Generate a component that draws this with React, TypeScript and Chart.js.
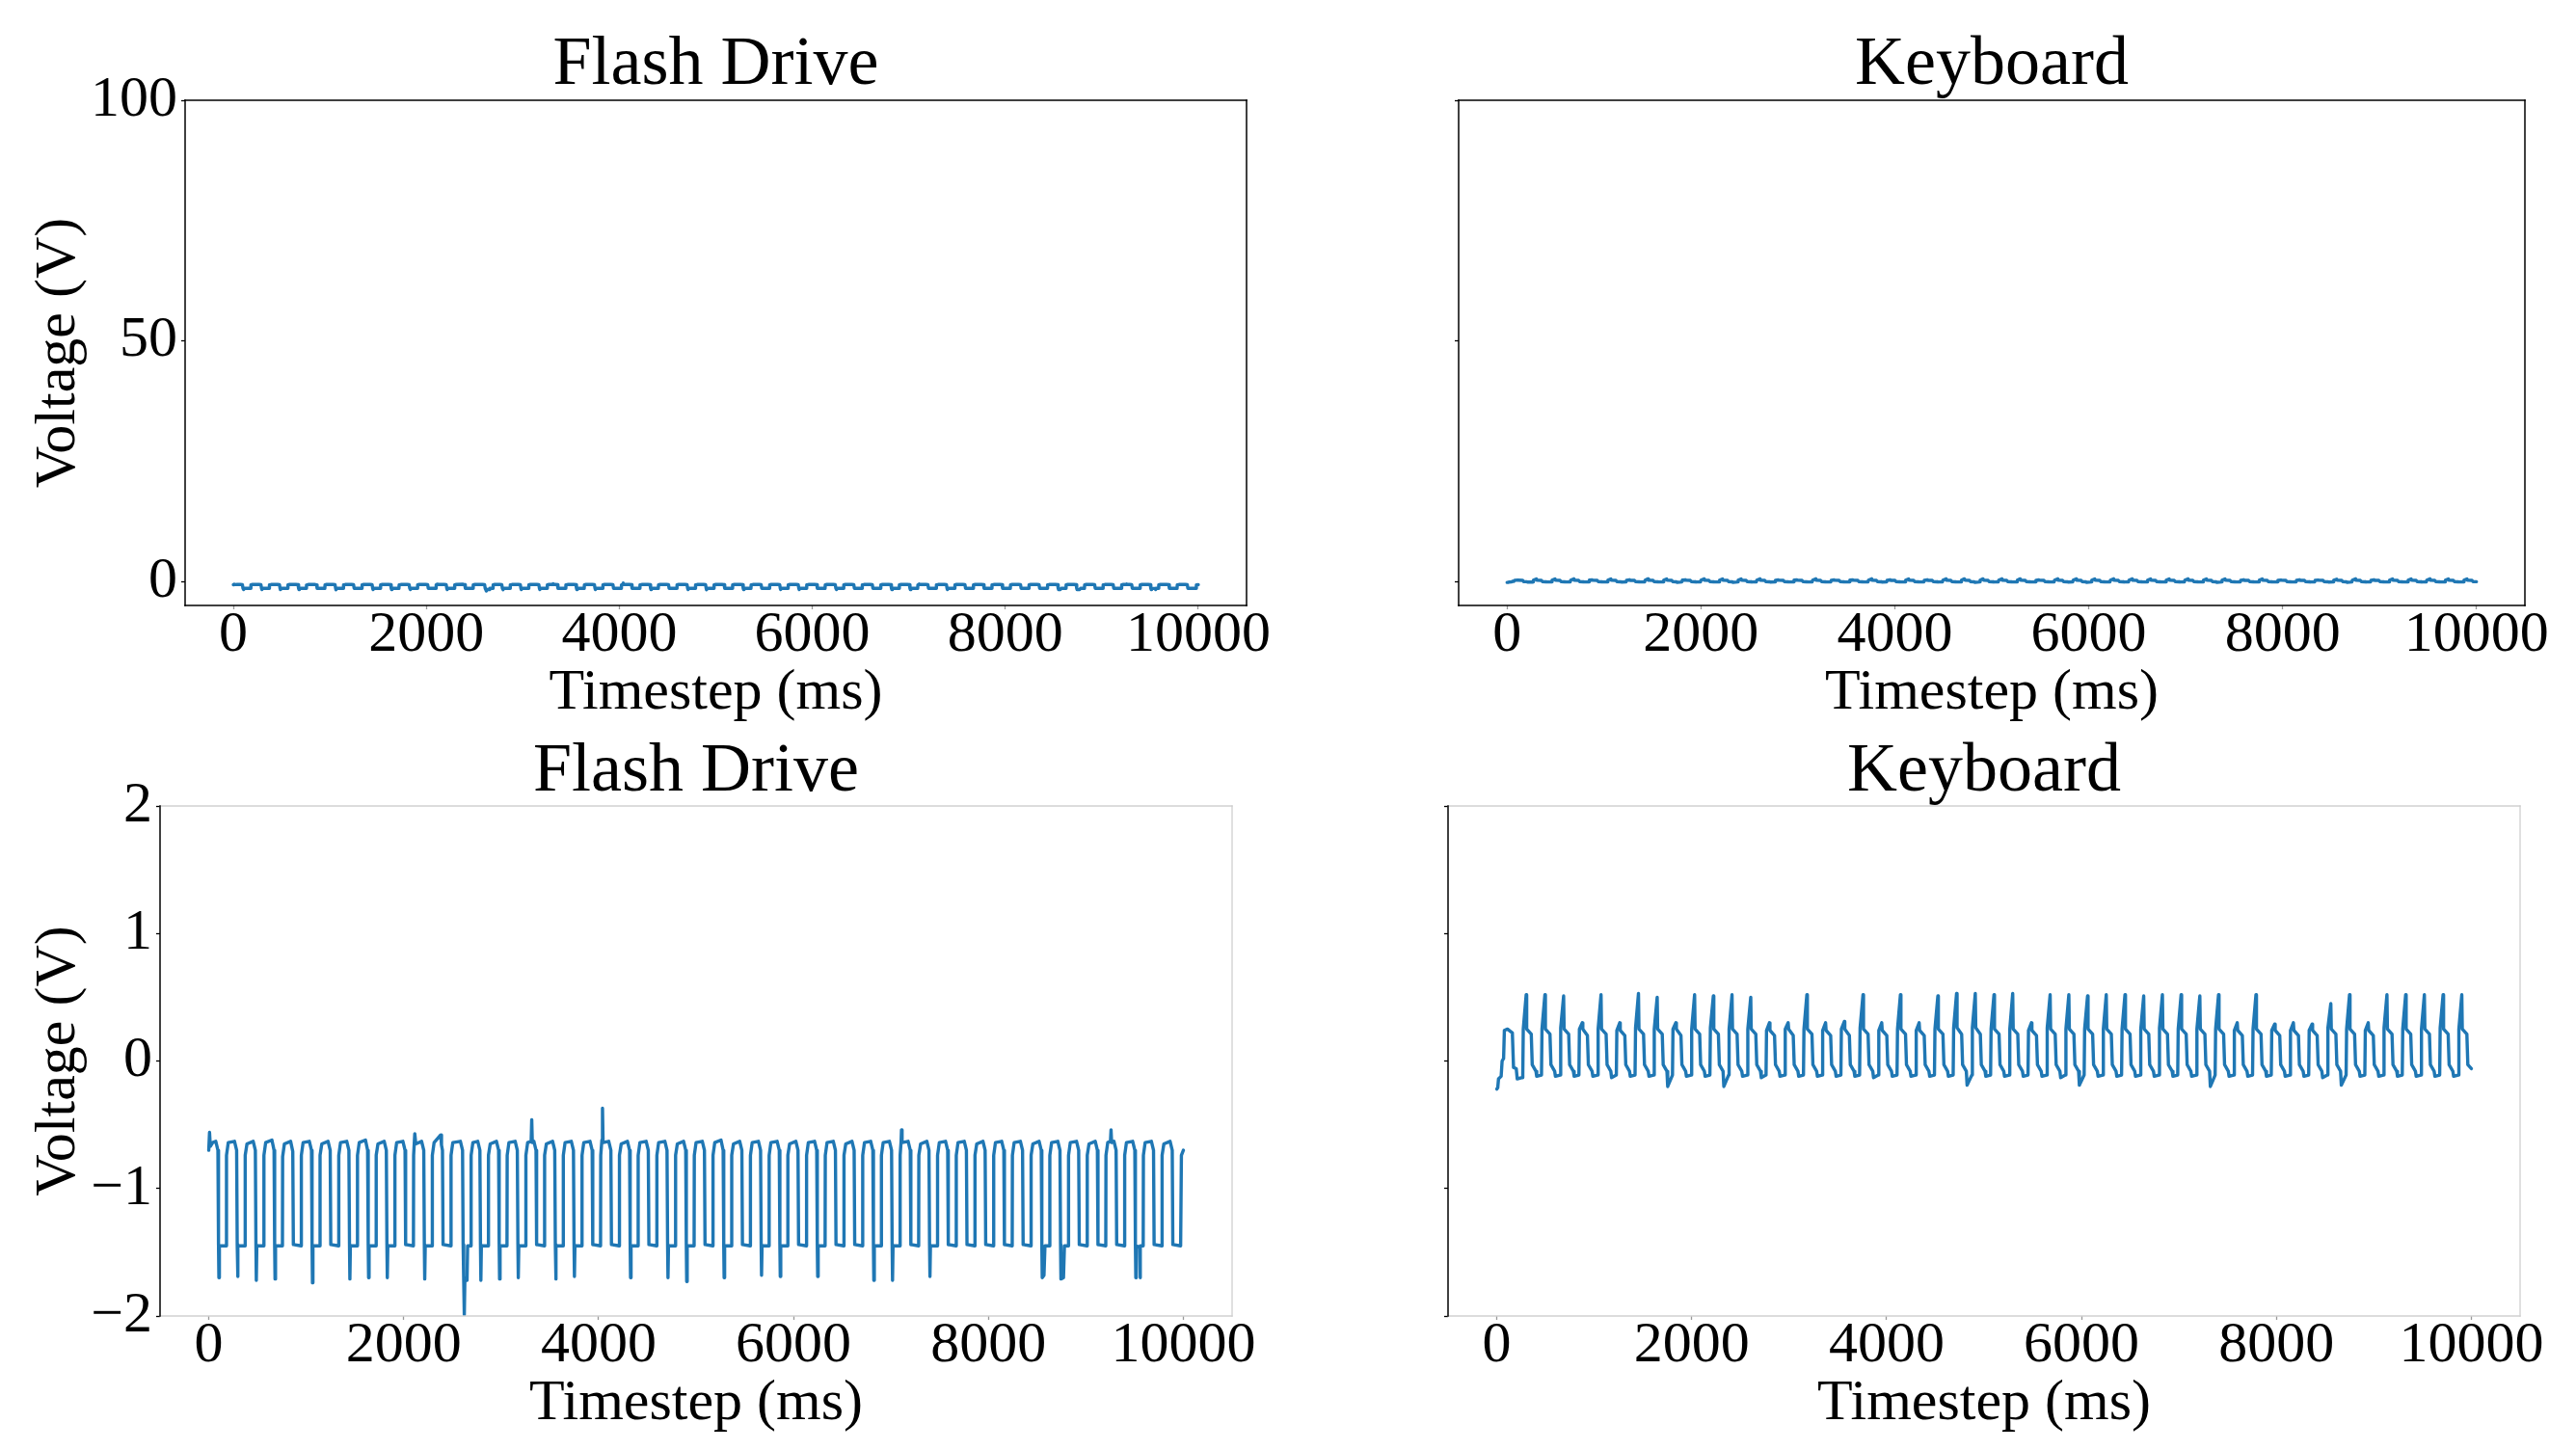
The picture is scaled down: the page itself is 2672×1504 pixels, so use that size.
import React, { useEffect, useRef } from 'react';
import { Chart, registerables } from 'chart.js';

Chart.register(...registerables);

const SERIF = '"Liberation Serif", "Times New Roman", Times, serif';
const LINE_BLUE = '#1f77b4';

const panelTitles = ['Flash Drive', 'Keyboard', 'Flash Drive', 'Keyboard'];
const xAxisTitle = 'Timestep (ms)';
const yAxisTitle = 'Voltage (V)';
const xTickValues = [0, 2000, 4000, 6000, 8000, 10000];
const topYTickValues = [0, 50, 100];
const bottomYTickValues = [-2, -1, 0, 1, 2];

// Flash drive trace: [time (ms), voltage (V)] vertices
const flashSeries: [number, number][] = [
  [0, -0.70], [8, -0.56], [16, -0.67], [40, -0.64], [72, -0.63], [94, -0.70], [100, -1.44], [104, -1.70], [109, -1.45], [180, -1.45],
  [182, -0.74], [200, -0.64], [264, -0.63], [286, -0.70], [292, -1.44], [296, -1.69], [301, -1.45], [372, -1.45],
  [374, -0.74], [392, -0.65], [456, -0.63], [478, -0.70], [484, -1.44], [488, -1.72], [493, -1.45], [564, -1.45],
  [566, -0.74], [584, -0.64], [648, -0.62], [670, -0.70], [676, -1.44], [680, -1.71], [685, -1.45], [756, -1.45],
  [758, -0.75], [776, -0.65], [840, -0.63], [862, -0.71], [868, -1.44], [948, -1.45],
  [950, -0.74], [968, -0.64], [1032, -0.63], [1054, -0.70], [1060, -1.44], [1064, -1.74], [1069, -1.45], [1140, -1.45],
  [1142, -0.74], [1160, -0.65], [1224, -0.63], [1246, -0.70], [1252, -1.44], [1332, -1.45],
  [1334, -0.74], [1352, -0.64], [1416, -0.63], [1438, -0.70], [1444, -1.44], [1448, -1.71], [1453, -1.45], [1524, -1.45],
  [1526, -0.74], [1544, -0.64], [1608, -0.62], [1630, -0.70], [1636, -1.44], [1640, -1.70], [1645, -1.45], [1716, -1.45],
  [1718, -0.74], [1736, -0.65], [1800, -0.63], [1822, -0.70], [1828, -1.44], [1832, -1.70], [1837, -1.45], [1908, -1.45],
  [1910, -0.74], [1928, -0.64], [1992, -0.63], [2014, -0.70], [2020, -1.44], [2100, -1.45],
  [2102, -0.74], [2114, -0.57], [2124, -0.65], [2184, -0.63], [2206, -0.70], [2212, -1.44], [2216, -1.71], [2221, -1.45], [2292, -1.45],
  [2294, -0.74], [2312, -0.64], [2380, -0.58], [2388, -0.66], [2398, -0.70], [2404, -1.44], [2484, -1.45],
  [2486, -0.74], [2504, -0.64], [2582, -0.63], [2604, -0.70], [2610, -1.44], [2616, -1.72], [2622, -1.99], [2628, -1.70], [2650, -1.72], [2656, -1.45], [2690, -1.45],
  [2692, -0.74], [2710, -0.64], [2760, -0.63], [2782, -0.70], [2788, -1.44], [2792, -1.72], [2797, -1.45], [2868, -1.45],
  [2870, -0.74], [2888, -0.65], [2952, -0.63], [2974, -0.70], [2980, -1.44], [2984, -1.71], [2989, -1.45], [3060, -1.45],
  [3062, -0.74], [3080, -0.64], [3144, -0.63], [3166, -0.70], [3172, -1.44], [3176, -1.70], [3181, -1.45], [3252, -1.45],
  [3254, -0.74], [3272, -0.64], [3308, -0.63], [3314, -0.46], [3320, -0.64], [3336, -0.63], [3358, -0.70], [3364, -1.44], [3444, -1.45],
  [3446, -0.74], [3464, -0.65], [3528, -0.63], [3550, -0.70], [3556, -1.44], [3560, -1.71], [3565, -1.45], [3636, -1.45],
  [3638, -0.74], [3656, -0.64], [3720, -0.63], [3742, -0.70], [3748, -1.44], [3752, -1.69], [3757, -1.45], [3828, -1.45],
  [3830, -0.74], [3848, -0.64], [3912, -0.63], [3934, -0.70], [3940, -1.44], [4020, -1.45],
  [4022, -0.74], [4034, -0.62], [4040, -0.37], [4046, -0.64], [4104, -0.63], [4126, -0.70], [4132, -1.44], [4212, -1.45],
  [4214, -0.74], [4232, -0.65], [4296, -0.63], [4318, -0.70], [4324, -1.44], [4328, -1.70], [4333, -1.45], [4404, -1.45],
  [4406, -0.74], [4424, -0.64], [4488, -0.63], [4510, -0.70], [4516, -1.44], [4596, -1.45],
  [4598, -0.74], [4616, -0.64], [4680, -0.63], [4702, -0.70], [4708, -1.44], [4712, -1.70], [4717, -1.45], [4788, -1.45],
  [4790, -0.74], [4808, -0.65], [4872, -0.63], [4894, -0.70], [4900, -1.44], [4904, -1.73], [4909, -1.45], [4980, -1.45],
  [4982, -0.74], [5000, -0.64], [5064, -0.63], [5086, -0.70], [5092, -1.44], [5172, -1.45],
  [5174, -0.74], [5192, -0.64], [5256, -0.62], [5278, -0.70], [5284, -1.44], [5288, -1.70], [5293, -1.45], [5364, -1.45],
  [5366, -0.74], [5384, -0.65], [5448, -0.63], [5470, -0.70], [5476, -1.44], [5556, -1.45],
  [5558, -0.74], [5576, -0.64], [5640, -0.63], [5662, -0.70], [5668, -1.44], [5672, -1.68], [5677, -1.45], [5748, -1.45],
  [5750, -0.74], [5768, -0.64], [5832, -0.63], [5854, -0.70], [5860, -1.44], [5864, -1.69], [5869, -1.45], [5940, -1.45],
  [5942, -0.74], [5960, -0.65], [6024, -0.63], [6046, -0.70], [6052, -1.44], [6132, -1.45],
  [6134, -0.74], [6152, -0.64], [6216, -0.63], [6238, -0.70], [6244, -1.44], [6248, -1.69], [6253, -1.45], [6324, -1.45],
  [6326, -0.74], [6344, -0.64], [6408, -0.63], [6430, -0.70], [6436, -1.44], [6516, -1.45],
  [6518, -0.74], [6536, -0.65], [6600, -0.63], [6622, -0.70], [6628, -1.44], [6708, -1.45],
  [6710, -0.74], [6728, -0.64], [6792, -0.63], [6814, -0.70], [6820, -1.44], [6824, -1.72], [6829, -1.45], [6900, -1.45],
  [6902, -0.74], [6920, -0.64], [6984, -0.63], [7006, -0.70], [7012, -1.44], [7016, -1.72], [7021, -1.45], [7092, -1.45],
  [7094, -0.74], [7104, -0.63], [7108, -0.54], [7114, -0.64], [7176, -0.63], [7198, -0.70], [7204, -1.44], [7284, -1.45],
  [7286, -0.74], [7304, -0.65], [7368, -0.63], [7390, -0.70], [7396, -1.44], [7400, -1.69], [7405, -1.45], [7476, -1.45],
  [7478, -0.74], [7496, -0.64], [7560, -0.63], [7582, -0.70], [7588, -1.44], [7668, -1.45],
  [7670, -0.74], [7688, -0.64], [7752, -0.63], [7774, -0.70], [7780, -1.44], [7860, -1.45],
  [7862, -0.74], [7880, -0.65], [7944, -0.63], [7966, -0.70], [7972, -1.44], [8052, -1.45],
  [8054, -0.74], [8072, -0.64], [8136, -0.63], [8158, -0.70], [8164, -1.44], [8244, -1.45],
  [8246, -0.74], [8264, -0.64], [8328, -0.63], [8350, -0.70], [8356, -1.44], [8436, -1.45],
  [8438, -0.74], [8456, -0.65], [8520, -0.63], [8542, -0.70], [8548, -1.44], [8552, -1.70], [8570, -1.68], [8580, -1.45], [8628, -1.45],
  [8630, -0.74], [8648, -0.64], [8712, -0.63], [8734, -0.70], [8740, -1.44], [8744, -1.71], [8770, -1.70], [8780, -1.45], [8820, -1.45],
  [8822, -0.74], [8840, -0.64], [8904, -0.63], [8926, -0.70], [8932, -1.44], [9012, -1.45],
  [9014, -0.74], [9032, -0.65], [9096, -0.63], [9118, -0.70], [9124, -1.44], [9204, -1.45],
  [9206, -0.74], [9224, -0.64], [9252, -0.63], [9258, -0.54], [9264, -0.64], [9288, -0.63], [9310, -0.70], [9316, -1.44], [9396, -1.45],
  [9398, -0.74], [9416, -0.64], [9480, -0.63], [9502, -0.70], [9508, -1.44], [9512, -1.70], [9517, -1.45], [9552, -1.46], [9556, -1.70], [9560, -1.45], [9588, -1.45],
  [9590, -0.74], [9608, -0.64], [9672, -0.63], [9694, -0.70], [9700, -1.44], [9780, -1.45],
  [9782, -0.74], [9800, -0.65], [9864, -0.63], [9886, -0.70], [9892, -1.44], [9972, -1.45], [9980, -0.74], [10000, -0.70],
];

// Keyboard trace: [time (ms), voltage (V)] vertices
const keyboardSeries: [number, number][] = [
  [0, -0.22], [10, -0.21], [18, -0.14], [45, -0.12], [55, 0.0], [70, 0.02], [78, 0.24], [110, 0.25], [160, 0.22], [172, -0.05], [200, -0.06], [210, -0.14], [265, -0.13],
  [267, -0.11], [272, 0.25], [302, 0.52], [307, 0.25], [354, 0.21], [364, -0.03], [402, -0.08], [410, -0.12],
  [459, -0.11], [464, 0.25], [494, 0.52], [499, 0.25], [546, 0.21], [556, -0.03], [594, -0.08], [602, -0.12],
  [651, -0.11], [656, 0.26], [686, 0.51], [691, 0.25], [738, 0.21], [748, -0.03], [786, -0.08], [794, -0.12],
  [843, -0.11], [848, 0.25], [878, 0.30], [883, 0.25], [930, 0.20], [940, -0.03], [978, -0.08], [986, -0.12],
  [1035, -0.11], [1040, 0.25], [1070, 0.52], [1075, 0.25], [1122, 0.21], [1132, -0.03], [1170, -0.08], [1178, -0.13],
  [1227, -0.11], [1232, 0.24], [1262, 0.30], [1267, 0.24], [1314, 0.20], [1324, -0.03], [1362, -0.08], [1370, -0.12],
  [1419, -0.11], [1424, 0.26], [1454, 0.53], [1459, 0.25], [1506, 0.21], [1516, -0.03], [1554, -0.08], [1562, -0.12],
  [1611, -0.11], [1616, 0.25], [1646, 0.50], [1651, 0.25], [1698, 0.21], [1708, -0.03], [1746, -0.08], [1754, -0.20],
  [1803, -0.11], [1808, 0.25], [1838, 0.30], [1843, 0.25], [1890, 0.20], [1900, -0.03], [1938, -0.08], [1946, -0.12],
  [1995, -0.11], [2000, 0.25], [2030, 0.52], [2035, 0.25], [2082, 0.21], [2092, -0.03], [2130, -0.08], [2138, -0.12],
  [2187, -0.11], [2192, 0.26], [2222, 0.51], [2227, 0.25], [2274, 0.21], [2284, -0.03], [2322, -0.08], [2330, -0.20],
  [2379, -0.11], [2384, 0.25], [2414, 0.52], [2419, 0.25], [2466, 0.21], [2476, -0.03], [2514, -0.08], [2522, -0.12],
  [2571, -0.11], [2576, 0.25], [2606, 0.50], [2611, 0.25], [2658, 0.21], [2668, -0.03], [2706, -0.08], [2714, -0.13],
  [2763, -0.11], [2768, 0.24], [2798, 0.30], [2803, 0.24], [2850, 0.20], [2860, -0.03], [2898, -0.08], [2906, -0.12],
  [2955, -0.11], [2960, 0.25], [2990, 0.30], [2995, 0.25], [3042, 0.20], [3052, -0.03], [3090, -0.08], [3098, -0.12],
  [3147, -0.11], [3152, 0.25], [3182, 0.52], [3187, 0.25], [3234, 0.21], [3244, -0.03], [3282, -0.08], [3290, -0.12],
  [3339, -0.11], [3344, 0.24], [3374, 0.30], [3379, 0.24], [3426, 0.20], [3436, -0.03], [3474, -0.08], [3482, -0.12],
  [3531, -0.11], [3536, 0.25], [3566, 0.31], [3571, 0.25], [3618, 0.20], [3628, -0.03], [3666, -0.08], [3674, -0.12],
  [3723, -0.11], [3728, 0.26], [3758, 0.52], [3763, 0.25], [3810, 0.21], [3820, -0.03], [3858, -0.08], [3866, -0.13],
  [3915, -0.11], [3920, 0.24], [3950, 0.30], [3955, 0.24], [4002, 0.20], [4012, -0.03], [4050, -0.08], [4058, -0.12],
  [4107, -0.11], [4112, 0.25], [4142, 0.52], [4147, 0.25], [4194, 0.21], [4204, -0.03], [4242, -0.08], [4250, -0.12],
  [4299, -0.11], [4304, 0.24], [4334, 0.30], [4339, 0.24], [4386, 0.20], [4396, -0.03], [4434, -0.08], [4442, -0.12],
  [4491, -0.11], [4496, 0.25], [4526, 0.51], [4531, 0.25], [4578, 0.21], [4588, -0.03], [4626, -0.08], [4634, -0.12],
  [4683, -0.11], [4688, 0.26], [4718, 0.53], [4723, 0.26], [4770, 0.21], [4780, -0.03], [4818, -0.08], [4826, -0.19],
  [4875, -0.11], [4880, 0.26], [4910, 0.53], [4915, 0.26], [4962, 0.21], [4972, -0.03], [5010, -0.08], [5018, -0.12],
  [5067, -0.11], [5072, 0.25], [5102, 0.52], [5107, 0.25], [5154, 0.21], [5164, -0.03], [5202, -0.08], [5210, -0.12],
  [5259, -0.11], [5264, 0.25], [5294, 0.53], [5299, 0.25], [5346, 0.21], [5356, -0.03], [5394, -0.08], [5402, -0.12],
  [5451, -0.11], [5456, 0.24], [5486, 0.30], [5491, 0.24], [5538, 0.20], [5548, -0.03], [5586, -0.08], [5594, -0.12],
  [5643, -0.11], [5648, 0.26], [5678, 0.52], [5683, 0.25], [5730, 0.21], [5740, -0.03], [5778, -0.08], [5786, -0.13],
  [5835, -0.11], [5840, 0.25], [5870, 0.52], [5875, 0.25], [5922, 0.21], [5932, -0.03], [5970, -0.08], [5978, -0.19],
  [6027, -0.11], [6032, 0.25], [6062, 0.51], [6067, 0.25], [6114, 0.21], [6124, -0.03], [6162, -0.08], [6170, -0.12],
  [6219, -0.11], [6224, 0.25], [6254, 0.52], [6259, 0.25], [6306, 0.21], [6316, -0.03], [6354, -0.08], [6362, -0.12],
  [6411, -0.11], [6416, 0.25], [6446, 0.52], [6451, 0.25], [6498, 0.21], [6508, -0.03], [6546, -0.08], [6554, -0.12],
  [6603, -0.11], [6608, 0.25], [6638, 0.51], [6643, 0.25], [6690, 0.21], [6700, -0.03], [6738, -0.08], [6746, -0.12],
  [6795, -0.11], [6800, 0.26], [6830, 0.52], [6835, 0.25], [6882, 0.21], [6892, -0.03], [6930, -0.08], [6938, -0.12],
  [6987, -0.11], [6992, 0.25], [7022, 0.52], [7027, 0.25], [7074, 0.21], [7084, -0.03], [7122, -0.08], [7130, -0.12],
  [7179, -0.11], [7184, 0.25], [7214, 0.51], [7219, 0.25], [7266, 0.21], [7276, -0.03], [7314, -0.08], [7322, -0.20],
  [7371, -0.11], [7376, 0.25], [7406, 0.52], [7411, 0.25], [7458, 0.21], [7468, -0.03], [7506, -0.08], [7514, -0.12],
  [7563, -0.11], [7568, 0.24], [7598, 0.30], [7603, 0.24], [7650, 0.20], [7660, -0.03], [7698, -0.08], [7706, -0.12],
  [7755, -0.11], [7760, 0.25], [7790, 0.52], [7795, 0.25], [7842, 0.21], [7852, -0.03], [7890, -0.08], [7898, -0.12],
  [7947, -0.11], [7952, 0.24], [7982, 0.29], [7987, 0.24], [8034, 0.20], [8044, -0.03], [8082, -0.08], [8090, -0.12],
  [8139, -0.11], [8144, 0.24], [8174, 0.30], [8179, 0.24], [8226, 0.20], [8236, -0.03], [8274, -0.08], [8282, -0.12],
  [8331, -0.11], [8336, 0.24], [8366, 0.29], [8371, 0.24], [8418, 0.20], [8428, -0.03], [8466, -0.08], [8474, -0.13],
  [8523, -0.11], [8528, 0.26], [8558, 0.45], [8563, 0.25], [8610, 0.21], [8620, -0.03], [8658, -0.08], [8666, -0.19],
  [8715, -0.11], [8720, 0.25], [8750, 0.52], [8755, 0.25], [8802, 0.21], [8812, -0.03], [8850, -0.08], [8858, -0.12],
  [8907, -0.11], [8912, 0.24], [8942, 0.30], [8947, 0.24], [8994, 0.20], [9004, -0.03], [9042, -0.08], [9050, -0.12],
  [9099, -0.11], [9104, 0.26], [9134, 0.52], [9139, 0.25], [9186, 0.21], [9196, -0.03], [9234, -0.08], [9242, -0.12],
  [9291, -0.11], [9296, 0.25], [9326, 0.52], [9331, 0.25], [9378, 0.21], [9388, -0.03], [9426, -0.08], [9434, -0.12],
  [9483, -0.11], [9488, 0.25], [9518, 0.52], [9523, 0.25], [9570, 0.21], [9580, -0.03], [9618, -0.08], [9626, -0.12],
  [9675, -0.11], [9680, 0.26], [9710, 0.52], [9715, 0.25], [9762, 0.21], [9772, -0.03], [9810, -0.08], [9818, -0.12],
  [9867, -0.11], [9872, 0.25], [9902, 0.52], [9907, 0.25], [9954, 0.21], [9964, -0.03], [10000, -0.06],
];

type Rect = { x: number; y: number; w: number; h: number };
type Area = { l: number; t: number; r: number; b: number };
type PanelCfg = {
  title: string;
  series: [number, number][];
  canvas: Rect;
  area: Area;
  yMin: number;
  yMax: number;
  yTicks: number[];
  showYLabels: boolean;
  spineTop: string;
  spineRight: string;
  spineBottom: string;
  spineLeft: string;
  titlePadTop: number;
  yTitlePadTop: number;
  xTitlePadBottom: number;
  xTickPad: number;
  xTickColor: string;
};

const fmt = (v: number) => (v < 0 ? '\u2212' + String(Math.abs(v)) : String(v));

const panels: PanelCfg[] = [
  {
    title: panelTitles[0], series: flashSeries,
    canvas: { x: 0, y: 0, w: 1336, h: 752 },
    area: { l: 192, t: 104, r: 1293, b: 628 },
    yMin: -5, yMax: 100, yTicks: topYTickValues, showYLabels: true,
    spineTop: '#000', spineRight: '#000', spineBottom: '#000', spineLeft: '#000',
    titlePadTop: 32, yTitlePadTop: 31, xTitlePadBottom: 3, xTickPad: 3, xTickColor: '#999',
  },
  {
    title: panelTitles[1], series: keyboardSeries,
    canvas: { x: 1336, y: 0, w: 1336, h: 752 },
    area: { l: 1513, t: 104, r: 2619, b: 628 },
    yMin: -5, yMax: 100, yTicks: topYTickValues, showYLabels: false,
    spineTop: '#000', spineRight: '#000', spineBottom: '#000', spineLeft: '#000',
    titlePadTop: 32, yTitlePadTop: 31, xTitlePadBottom: 3, xTickPad: 3, xTickColor: '#999',
  },
  {
    title: panelTitles[2], series: flashSeries,
    canvas: { x: 0, y: 752, w: 1336, h: 752 },
    area: { l: 166, t: 836, r: 1278, b: 1365 },
    yMin: -2, yMax: 2, yTicks: bottomYTickValues, showYLabels: true,
    spineTop: '#d0d0d0', spineRight: '#d0d0d0', spineBottom: '#d0d0d0', spineLeft: '#000',
    titlePadTop: 13, yTitlePadTop: 31, xTitlePadBottom: 18, xTickPad: 3, xTickColor: '#999',
  },
  {
    title: panelTitles[3], series: keyboardSeries,
    canvas: { x: 1336, y: 752, w: 1336, h: 752 },
    area: { l: 1502, t: 836, r: 2614, b: 1365 },
    yMin: -2, yMax: 2, yTicks: bottomYTickValues, showYLabels: false,
    spineTop: '#d0d0d0', spineRight: '#d0d0d0', spineBottom: '#d0d0d0', spineLeft: '#000',
    titlePadTop: 13, yTitlePadTop: 31, xTitlePadBottom: 18, xTickPad: 3, xTickColor: '#999',
  },
];

function Panel({ cfg }: { cfg: PanelCfg }) {
  const ref = useRef<HTMLCanvasElement | null>(null);
  useEffect(() => {
    const canvas = ref.current;
    if (!canvas) return;
    const { canvas: c, area } = cfg;
    const localTop = area.t - c.y;
    const localBottom = area.b - c.y;
    const yAxisWidth = area.l - c.x;
    const xAxisHeight = c.h - localBottom;
    const rightPad = c.w - (area.r - c.x);
    const titleFont = 72;
    const titlePadBottom = localTop - cfg.titlePadTop - titleFont;

    const spines = {
      id: 'spines',
      afterDatasetsDraw(chart: any) {
        const a = chart.chartArea;
        const g = chart.ctx;
        g.save();
        g.lineCap = 'square';
        const seg = (color: string, w: number, x1: number, y1: number, x2: number, y2: number) => {
          g.strokeStyle = color;
          g.lineWidth = w;
          g.beginPath();
          g.moveTo(x1, y1);
          g.lineTo(x2, y2);
          g.stroke();
        };
        const wOf = (col: string) => (col === '#000' ? 1.5 : 1.3);
        seg(cfg.spineTop, wOf(cfg.spineTop), a.left, a.top, a.right, a.top);
        seg(cfg.spineRight, wOf(cfg.spineRight), a.right, a.top, a.right, a.bottom);
        seg(cfg.spineBottom, wOf(cfg.spineBottom), a.left, a.bottom, a.right, a.bottom);
        seg(cfg.spineLeft, wOf(cfg.spineLeft), a.left, a.top, a.left, a.bottom);
        g.restore();
      },
    };

    const points = cfg.series.map(([t, v]) => ({ x: t, y: v }));

    const chart = new Chart(canvas, {
      type: 'line',
      data: {
        datasets: [
          {
            data: points,
            borderColor: LINE_BLUE,
            borderWidth: 3.4,
            pointRadius: 0,
            tension: 0,
            fill: false,
            borderJoinStyle: 'round',
            borderCapStyle: 'round',
          },
        ],
      },
      options: {
        responsive: false,
        maintainAspectRatio: false,
        animation: false,
        devicePixelRatio: 1,
        parsing: false,
        normalized: true,
        layout: { padding: { left: 0, top: 0, right: rightPad, bottom: 0 }, autoPadding: false },
        plugins: {
          legend: { display: false },
          tooltip: { enabled: false },
          title: {
            display: true,
            text: cfg.title,
            fullSize: false,
            color: '#000',
            font: { family: SERIF, size: titleFont, weight: 'normal', lineHeight: 1 },
            padding: { top: cfg.titlePadTop, bottom: titlePadBottom },
          },
        },
        scales: {
          x: {
            type: 'linear',
            min: -500,
            max: 10500,
            afterBuildTicks: (scale: any) => {
              scale.ticks = xTickValues.map((v) => ({ value: v }));
            },
            afterFit: (scale: any) => {
              scale.height = xAxisHeight;
              scale.paddingLeft = 0;
              scale.paddingRight = 0;
            },
            ticks: {
              autoSkip: false,
              maxRotation: 0,
              minRotation: 0,
              padding: cfg.xTickPad,
              color: '#000',
              font: { family: SERIF, size: 60, lineHeight: 0.8 },
              callback: (v: any) => fmt(Number(v)),
            },
            grid: {
              drawOnChartArea: false,
              drawTicks: true,
              tickLength: 4,
              tickWidth: 1.3,
              tickColor: cfg.xTickColor,
            },
            border: { display: false },
            title: {
              display: true,
              text: xAxisTitle,
              color: '#000',
              font: { family: SERIF, size: 60, lineHeight: 1 },
              padding: { top: 0, bottom: cfg.xTitlePadBottom },
            },
          },
          y: {
            type: 'linear',
            min: cfg.yMin,
            max: cfg.yMax,
            afterBuildTicks: (scale: any) => {
              scale.ticks = cfg.yTicks.map((v) => ({ value: v }));
            },
            afterFit: (scale: any) => {
              scale.width = yAxisWidth;
              scale.paddingTop = 0;
              scale.paddingBottom = 0;
            },
            ticks: {
              autoSkip: false,
              padding: 4,
              color: '#000',
              font: { family: SERIF, size: 60, lineHeight: 1 },
              callback: (v: any) => (cfg.showYLabels ? fmt(Number(v)) : ''),
            },
            grid: {
              drawOnChartArea: false,
              drawTicks: true,
              tickLength: 4,
              tickWidth: 1.3,
              tickColor: '#000',
            },
            border: { display: false },
            title: {
              display: cfg.showYLabels,
              text: yAxisTitle,
              color: '#000',
              font: { family: SERIF, size: 60, lineHeight: 1 },
              padding: { top: cfg.yTitlePadTop, bottom: 0 },
            },
          },
        },
      },
      plugins: [spines],
    } as any);
    return () => chart.destroy();
  }, [cfg]);

  return (
    <canvas
      ref={ref}
      width={cfg.canvas.w}
      height={cfg.canvas.h}
      style={{
        position: 'absolute',
        left: cfg.canvas.x,
        top: cfg.canvas.y,
        width: cfg.canvas.w,
        height: cfg.canvas.h,
        display: 'block',
      }}
    />
  );
}

export default function App() {
  return (
    <div
      style={{
        position: 'absolute',
        left: 0,
        top: 0,
        width: 2672,
        height: 1504,
        background: '#fff',
        overflow: 'hidden',
      }}
    >
      {panels.map((p, i) => (
        <Panel key={i} cfg={p} />
      ))}
    </div>
  );
}
